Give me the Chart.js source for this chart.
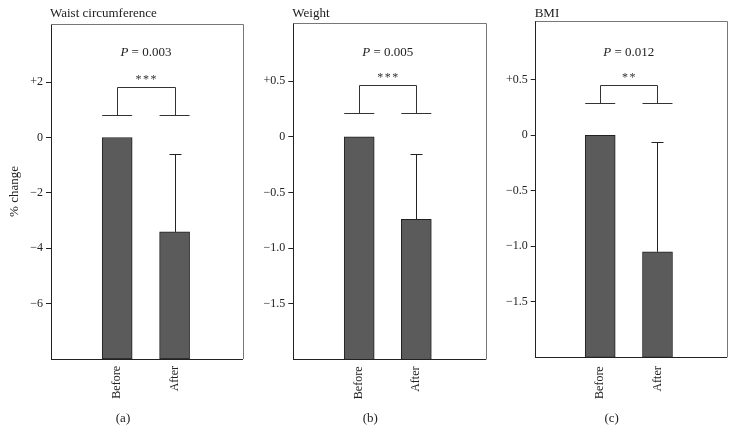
<!DOCTYPE html>
<html><head><meta charset="utf-8">
<script src="https://cdn.jsdelivr.net/npm/chart.js@4.4.0/dist/chart.umd.min.js"></script>
<style>
html,body{margin:0;padding:0;background:#fff;}
#wrap{position:relative;width:735px;height:445px;overflow:hidden;background:#fff;}
.panel{position:absolute;top:0;height:445px;}
</style></head><body>
<div id="wrap">
  <div class="panel" id="p0"><canvas id="c0"></canvas></div>
  <div class="panel" id="p1"><canvas id="c1"></canvas></div>
  <div class="panel" id="p2"><canvas id="c2"></canvas></div>
</div>
<script>
// ---- data ----
const categories = ['Before', 'After'];
const panelTitles = ['Waist circumference', 'Weight', 'BMI'];
const panelLetters = ['(a)', '(b)', '(c)'];
const beforeValues = [0, 0, 0];
const afterValues = [-3.41, -0.74, -1.05];
const afterErrors = [2.81, 0.585, 0.985];
const bracketBase = [0.8, 0.21, 0.29];
const bracketTop = [1.84, 0.47, 0.455];
const pValues = ['0.003', '0.005', '0.012'];
const stars = ['***', '***', '**'];
const yTickValues = [[2, 0, -2, -4, -6], [0.5, 0, -0.5, -1, -1.5], [0.5, 0, -0.5, -1, -1.5]];
const yTickLabels = [['+2', '0', '\u22122', '\u22124', '\u22126'],
                     ['+0.5', '0', '\u22120.5', '\u22121.0', '\u22121.5'],
                     ['+0.5', '0', '\u22120.5', '\u22121.0', '\u22121.5']];
const yMin = [-8, -2, -2];
const yMax = [4.1, 1.02, 1.026];
const yAxisTitle = ['% change', '', ''];

// ---- layout (positions / sizes) ----
const layoutCfg = [
  {left: 0,   width: 248, padTop: 24,   padRight: 5.5, yW: 51,   xH: 86,   xMin: -0.153, xMax: 3.183, xPad: 7, letterX: 72},
  {left: 248, width: 242, padTop: 23.3, padRight: 4.3, yW: 45.3, xH: 85.5, xMin: -0.154, xMax: 3.215, xPad: 7, letterX: 77},
  {left: 490, width: 245, padTop: 21.3, padRight: 8.3, yW: 45.7, xH: 87.7, xMin: -0.126, xMax: 3.208, xPad: 9, letterX: 76}
];
const FONT = '"Liberation Serif", "Times New Roman", serif';
const BAR_FILL = '#5b5b5b';
const DARK = '#222';

function line(ctx, x1, y1, x2, y2) {
  ctx.beginPath(); ctx.moveTo(x1, y1); ctx.lineTo(x2, y2); ctx.stroke();
}
const px = v => Math.round(v) + 0.5;

const annot = {
  id: 'annot',
  afterDatasetsDraw(chart, args, opts) {
    const i = opts.panel;
    const {ctx, chartArea: a, scales: {y}} = chart;
    const meta = chart.getDatasetMeta(0);
    const bB = meta.data[0], bA = meta.data[1];
    ctx.save();
    ctx.lineWidth = 1;
    // frame top/right
    ctx.strokeStyle = '#777';
    line(ctx, a.left, px(a.top), px(a.right), px(a.top));
    line(ctx, px(a.right), px(a.top), px(a.right), a.bottom);
    // error bar on After
    ctx.strokeStyle = DARK;
    const yBar = y.getPixelForValue(afterValues[i]);
    const yErr = px(y.getPixelForValue(afterValues[i] + afterErrors[i]));
    const xc = px(bA.x);
    line(ctx, xc, yBar, xc, yErr);
    line(ctx, xc - 6, yErr, xc + 6, yErr);
    // bracket
    ctx.strokeStyle = '#333';
    const yb = px(y.getPixelForValue(bracketBase[i]));
    const yt = px(y.getPixelForValue(bracketTop[i]));
    [bB, bA].forEach(b => line(ctx, b.x - b.width / 2, yb, b.x + b.width / 2, yb));
    line(ctx, px(bB.x), yb, px(bB.x), yt);
    line(ctx, px(bB.x), yt, px(bA.x), yt);
    line(ctx, px(bA.x), yt, px(bA.x), yb);
    ctx.restore();
  },
  afterDraw(chart, args, opts) {
    const i = opts.panel;
    const L = layoutCfg[i];
    const {ctx, chartArea: a, scales: {y}} = chart;
    const meta = chart.getDatasetMeta(0);
    const bB = meta.data[0], bA = meta.data[1];
    const mid = (bB.x + bA.x) / 2;
    ctx.save();
    ctx.fillStyle = DARK;
    ctx.textBaseline = 'middle';
    // title
    ctx.font = '13px ' + FONT;
    ctx.textAlign = 'left';
    ctx.fillText(panelTitles[i], a.left - 1, 13.5);
    // P value
    ctx.font = 'italic 13px ' + FONT;
    const wP = ctx.measureText('P').width;
    ctx.font = '13px ' + FONT;
    const rest = ' = ' + pValues[i];
    const wR = ctx.measureText(rest).width;
    const x0 = mid - (wP + wR) / 2;
    ctx.font = 'italic 13px ' + FONT;
    ctx.fillText('P', x0, 52.5);
    ctx.font = '13px ' + FONT;
    ctx.fillText(rest, x0 + wP, 52.5);
    // stars
    const yt = y.getPixelForValue(bracketTop[i]);
    ctx.textAlign = 'center';
    ctx.font = '12px ' + FONT;
    ctx.fillStyle = '#333';
    if ('letterSpacing' in ctx) ctx.letterSpacing = '1.5px';
    ctx.fillText(stars[i], mid + 0.75, yt - 6.5);
    if ('letterSpacing' in ctx) ctx.letterSpacing = '0px';
    ctx.fillStyle = DARK;
    // letter
    ctx.font = '13px ' + FONT;
    ctx.fillText(panelLetters[i], a.left + L.letterX, 418.5);
    ctx.restore();
  }
};

for (let i = 0; i < 3; i++) {
  const L = layoutCfg[i];
  const holder = document.getElementById('p' + i);
  holder.style.left = L.left + 'px';
  holder.style.width = L.width + 'px';
  const cv = document.getElementById('c' + i);
  cv.width = L.width; cv.height = 445;
  cv.style.width = L.width + 'px'; cv.style.height = '445px';
  const vals = [beforeValues[i], afterValues[i]];
  new Chart(cv, {
    type: 'bar',
    data: {
      datasets: [{
        data: categories.map((c, k) => ({x: k + 1, y: vals[k]})),
        base: yMin[i],
        backgroundColor: BAR_FILL,
        borderColor: DARK,
        borderWidth: 1,
        borderSkipped: false,
        barThickness: 30
      }]
    },
    options: {
      responsive: false,
      animation: false,
      events: [],
      devicePixelRatio: 1,
      layout: {padding: {top: L.padTop, right: L.padRight, left: 0, bottom: 0}},
      plugins: {legend: {display: false}, tooltip: {enabled: false}, annot: {panel: i}},
      scales: {
        x: {
          type: 'linear',
          offset: false,
          bounds: 'data',
          min: L.xMin, max: L.xMax,
          afterBuildTicks: s => { s.ticks = categories.map((c, k) => ({value: k + 1})); },
          afterFit: s => { s.height = L.xH; },
          grid: {display: false, drawTicks: false, tickLength: 0, offset: false},
          border: {display: true, color: DARK, width: 1},
          ticks: {
            autoSkip: false, minRotation: 90, maxRotation: 90, padding: L.xPad,
            color: DARK, font: {family: FONT, size: 12},
            callback: v => categories[v - 1] || ''
          }
        },
        y: {
          type: 'linear',
          min: yMin[i], max: yMax[i],
          afterBuildTicks: s => { s.ticks = yTickValues[i].map(v => ({value: v})); },
          afterFit: s => { s.width = L.yW; },
          grid: {display: true, drawOnChartArea: false, drawTicks: true, tickLength: 5, color: DARK},
          border: {display: true, color: DARK, width: 1},
          ticks: {
            padding: 3, color: DARK, font: {family: FONT, size: 12},
            callback: v => { const k = yTickValues[i].indexOf(v); return k >= 0 ? yTickLabels[i][k] : ''; }
          },
          title: {
            display: yAxisTitle[i] !== '',
            text: yAxisTitle[i],
            color: DARK,
            font: {family: FONT, size: 13},
            padding: {top: 7, bottom: 0}
          }
        }
      }
    },
    plugins: [annot]
  });
}
</script>
</body></html>
